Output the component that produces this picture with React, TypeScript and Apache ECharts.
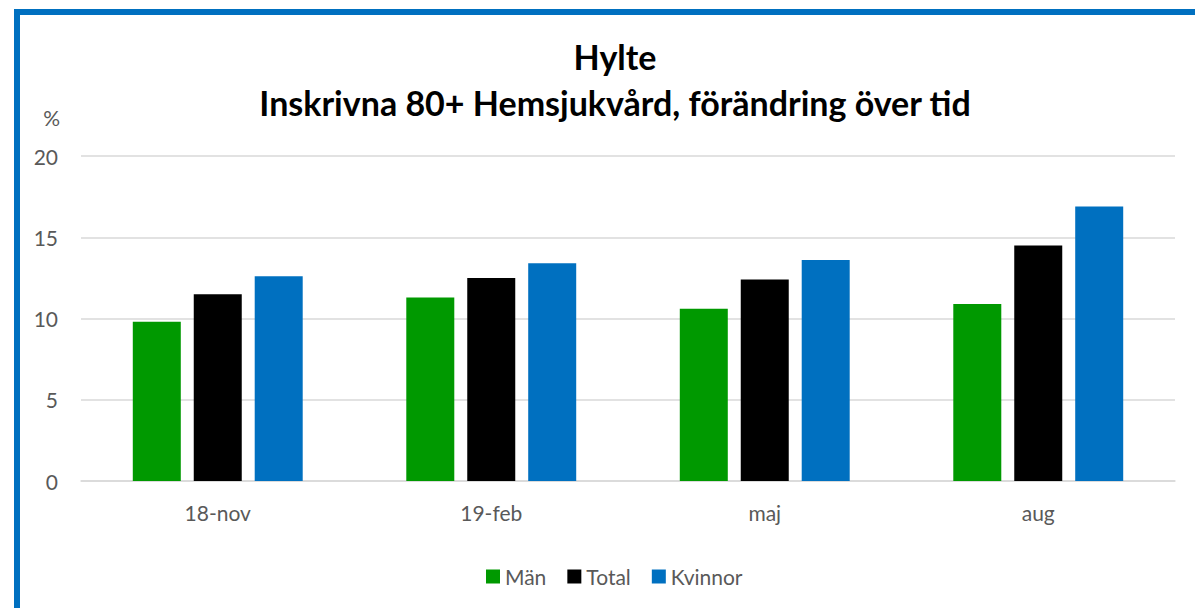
import React, { useEffect, useRef } from "react";
import * as echarts from "echarts";

const categories = ["18-nov", "19-feb", "maj", "aug"];
const man = [9.8, 11.3, 10.6, 10.9];
const total = [11.5, 12.5, 12.4, 14.5];
const kvinnor = [12.6, 13.4, 13.6, 16.9];
const yTicks = { min: 0, max: 20, interval: 5 };

const FONT = "Lato";

export default function App() {
  const ref = useRef<HTMLDivElement>(null);
  useEffect(() => {
    if (!ref.current) return;
    const chart = echarts.init(ref.current, null, { renderer: "svg" });
    chart.setOption({
      animation: false,
      backgroundColor: "#ffffff",
      textStyle: { fontFamily: FONT },
      title: {
        text: "Hylte\nInskrivna 80+ Hemsjukvård, förändring över tid",
        left: 610,
        top: 28,
        textAlign: "center",
        textStyle: {
          fontFamily: FONT,
          fontWeight: "bold",
          fontSize: 34,
          lineHeight: 46,
          color: "#000000",
        },
      },
      graphic: [
        {
          type: "rect",
          shape: { x: 17, y: 12, width: 1400, height: 800 },
          style: { fill: "none", stroke: "#0070C0", lineWidth: 6 },
          silent: true,
        },
      ],
      legend: {
        top: 561,
        left: 481,
        itemWidth: 14,
        itemHeight: 14,
        itemGap: 21,
        icon: "rect",
        textStyle: { fontFamily: FONT, fontSize: 21, color: "#595959" },
        data: ["Män", "Total", "Kvinnor"],
      },
      grid: { left: 81, right: 20, top: 156, bottom: 127 },
      xAxis: {
        type: "category",
        data: categories,
        axisTick: { show: false },
        axisLine: { lineStyle: { color: "#D9D9D9", width: 1.5 } },
        axisLabel: { fontFamily: FONT, fontSize: 21, color: "#595959", margin: 21 },
      },
      yAxis: {
        type: "value",
        min: yTicks.min,
        max: yTicks.max,
        interval: yTicks.interval,
        name: "%",
        nameLocation: "end",
        nameGap: 39,
        nameTextStyle: {
          fontFamily: FONT,
          fontSize: 21,
          color: "#595959",
          align: "right",
          verticalAlign: "middle",
          padding: [0, 21, 0, 0],
        },
        axisLine: { show: false },
        axisTick: { show: false },
        splitLine: { lineStyle: { color: "#D9D9D9", width: 1.5 } },
        axisLabel: { fontFamily: FONT, fontSize: 21, color: "#595959", margin: 23 },
      },
      series: [
        { name: "Män", type: "bar", data: man, barWidth: 48, barGap: "27%", itemStyle: { color: "#009900" } },
        { name: "Total", type: "bar", data: total, barWidth: 48, barGap: "27%", itemStyle: { color: "#000000" } },
        { name: "Kvinnor", type: "bar", data: kvinnor, barWidth: 48, barGap: "27%", itemStyle: { color: "#0070C0" } },
      ],
    });
    return () => chart.dispose();
  }, []);
  return (
    <div
      ref={ref}
      style={{ position: "fixed", left: 0, top: 0, width: 1195, height: 608 }}
    />
  );
}
